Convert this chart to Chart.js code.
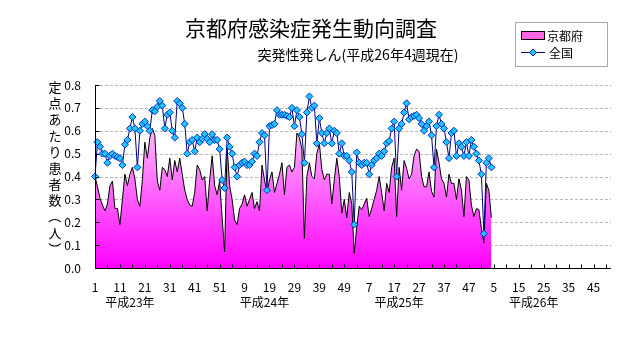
<!DOCTYPE html>
<html>
<head>
<meta charset="utf-8">
<script src="https://cdn.jsdelivr.net/npm/chart.js@4.4.0/dist/chart.umd.min.js"></script>
<style>
  html, body { margin: 0; padding: 0; background: #fff; }
</style>
</head>
<body>
<canvas id="chart" width="632" height="348"></canvas>
<script>
const chartTitle = '京都府感染症発生動向調査';
const chartSubtitle = '突発性発しん(平成26年4週現在)';
const yAxisTitle = ['定', '点', 'あ', 'た', 'り', '患', '者', '数', '（', '人', '）'];
const years = ['平成23年', '平成24年', '平成25年', '平成26年'];
const weeksPerYear = 52;
const tickLabels = ['1', '11', '21', '31', '41', '51', '9', '19', '29', '39', '49',
                    '7', '17', '27', '37', '47', '5', '15', '25', '35', '45'];
const seriesNames = ['京都府', '全国'];

// 京都府 (定点あたり) 平成23年1週 - 平成26年4週
const kyoto = [
    0.40, 0.355, 0.305, 0.275, 0.25, 0.28, 0.36, 0.38, 0.26, 0.26,
    0.19, 0.30, 0.41, 0.36, 0.41, 0.44, 0.39, 0.30, 0.27, 0.385,
    0.55, 0.48, 0.57, 0.61, 0.58, 0.38, 0.34, 0.44, 0.43, 0.40,
    0.48, 0.385, 0.47, 0.42, 0.48, 0.41, 0.34, 0.30, 0.275, 0.27,
    0.33, 0.45, 0.43, 0.385, 0.40, 0.25, 0.385, 0.49, 0.36, 0.32,
    0.38, 0.22, 0.07, 0.53, 0.36, 0.30, 0.21, 0.19, 0.26, 0.28,
    0.32, 0.27, 0.30, 0.33, 0.26, 0.29, 0.25, 0.45, 0.385, 0.33,
    0.385, 0.42, 0.33, 0.37, 0.41, 0.46, 0.32, 0.44, 0.45, 0.42,
    0.44, 0.59, 0.57, 0.52, 0.13, 0.40, 0.46, 0.40, 0.39, 0.50,
    0.545, 0.43, 0.385, 0.41, 0.41, 0.28, 0.385, 0.48, 0.40, 0.24,
    0.30, 0.22, 0.33, 0.28, 0.065, 0.18, 0.27, 0.255, 0.28, 0.305,
    0.225, 0.26, 0.30, 0.34, 0.40, 0.33, 0.25, 0.37, 0.33, 0.44,
    0.48, 0.225, 0.44, 0.34, 0.47, 0.435, 0.39, 0.41, 0.49, 0.52,
    0.51, 0.40, 0.355, 0.355, 0.42, 0.335, 0.31, 0.52, 0.46, 0.39,
    0.37, 0.31, 0.41, 0.37, 0.37, 0.30, 0.39, 0.34, 0.225, 0.40,
    0.385, 0.275, 0.225, 0.26, 0.255, 0.175, 0.11, 0.37, 0.34, 0.22
];

// 全国
const zenkoku = [
    0.40, 0.55, 0.53, 0.50, 0.50, 0.46, 0.49, 0.50, 0.49, 0.485,
    0.48, 0.45, 0.54, 0.56, 0.61, 0.66, 0.61, 0.44, 0.60, 0.63,
    0.64, 0.62, 0.60, 0.69, 0.685, 0.705, 0.73, 0.71, 0.61, 0.67,
    0.68, 0.60, 0.57, 0.73, 0.72, 0.70, 0.63, 0.50, 0.55, 0.56,
    0.51, 0.57, 0.55, 0.565, 0.585, 0.565, 0.55, 0.585, 0.56, 0.56,
    0.52, 0.385, 0.35, 0.57, 0.53, 0.50, 0.44, 0.40, 0.45, 0.46,
    0.465, 0.45, 0.45, 0.465, 0.50, 0.49, 0.55, 0.59, 0.58, 0.34,
    0.62, 0.625, 0.63, 0.69, 0.67, 0.67, 0.67, 0.665, 0.66, 0.70,
    0.62, 0.69, 0.66, 0.585, 0.46, 0.68, 0.75, 0.70, 0.71, 0.545,
    0.655, 0.59, 0.545, 0.59, 0.61, 0.545, 0.60, 0.59, 0.50, 0.545,
    0.49, 0.49, 0.47, 0.42, 0.19, 0.505, 0.46, 0.45, 0.46, 0.46,
    0.41, 0.45, 0.47, 0.48, 0.50, 0.49, 0.51, 0.545, 0.555, 0.61,
    0.64, 0.40, 0.61, 0.63, 0.68, 0.72, 0.65, 0.66, 0.665, 0.67,
    0.655, 0.63, 0.60, 0.62, 0.64, 0.58, 0.44, 0.62, 0.67, 0.63,
    0.61, 0.55, 0.48, 0.59, 0.60, 0.49, 0.545, 0.53, 0.49, 0.55,
    0.49, 0.56, 0.53, 0.50, 0.47, 0.41, 0.15, 0.46, 0.48, 0.44
];

// one category per week, 4 years
let weekLabels = [];
for (let y = 0; y < years.length; y++) {
    for (let w = 1; w <= weeksPerYear; w++) {
        weekLabels.push(years[y] + w + '週');
    }
}

const FONT = '"Noto Sans CJK JP", "Noto Sans", sans-serif';

function pinkFill(context) {
    const area = context.chart.chartArea;
    if (!area) return '#ff66dd';
    const g = context.chart.ctx.createLinearGradient(0, area.top, 0, area.bottom);
    g.addColorStop(0, '#fff2fc');
    g.addColorStop(1, '#ff00ff');
    return g;
}

function diamond(ctx, cx, cy, r) {
    ctx.beginPath();
    ctx.moveTo(cx, cy - r);
    ctx.lineTo(cx + r, cy);
    ctx.lineTo(cx, cy + r);
    ctx.lineTo(cx - r, cy);
    ctx.closePath();
    ctx.fill();
    ctx.stroke();
}

const decor = {
    id: 'decor',
    beforeDatasetsDraw(chart) {
        const ctx = chart.ctx;
        const a = chart.chartArea;
        const ys = chart.scales.y;
        ctx.save();
        ctx.strokeStyle = '#b8b8b8';
        ctx.lineWidth = 1;
        ctx.setLineDash([3, 2]);
        ys.ticks.forEach(t => {
            if (t.value === 0) return;
            const py = Math.round(ys.getPixelForValue(t.value)) + 0.5;
            ctx.beginPath();
            ctx.moveTo(a.left, py);
            ctx.lineTo(a.right, py);
            ctx.stroke();
        });
        ctx.restore();
    },
    afterDatasetsDraw(chart) {
        const ctx = chart.ctx;
        const a = chart.chartArea;
        const xs = chart.scales.x;
        const ys = chart.scales.y;
        const left = Math.round(a.left) + 0.5;
        const bottom = Math.round(a.bottom) + 0.5;
        ctx.save();
        ctx.strokeStyle = '#000';
        ctx.lineWidth = 1;
        ctx.beginPath();
        ctx.moveTo(left, Math.round(a.top));
        ctx.lineTo(left, bottom);
        ctx.lineTo(Math.round(a.right), bottom);
        // inward tick marks
        ys.ticks.forEach(t => {
            const py = Math.round(ys.getPixelForValue(t.value)) + 0.5;
            ctx.moveTo(left, py);
            ctx.lineTo(left + 4, py);
        });
        for (let i = 0; i < weekLabels.length; i += 5) {
            const px = Math.round(xs.getPixelForValue(i)) + 0.5;
            ctx.moveTo(px, bottom);
            ctx.lineTo(px, bottom - 4);
        }
        ctx.stroke();
        ctx.restore();
    },
    afterDraw(chart) {
        const ctx = chart.ctx;
        const a = chart.chartArea;
        const xs = chart.scales.x;
        ctx.save();
        ctx.fillStyle = '#000';
        ctx.textBaseline = 'middle';
        ctx.textAlign = 'center';

        ctx.font = '21px ' + FONT;
        ctx.fillText(chartTitle, 311, 28);
        ctx.font = '14px ' + FONT;
        ctx.fillText(chartSubtitle, 358, 55);

        // vertical y axis title, brackets turned like vertical writing
        ctx.font = '13px ' + FONT;
        yAxisTitle.forEach((ch, k) => {
            const cy = a.top + 2 + k * 16.2;
            if (ch === '（' || ch === '）') {
                ctx.save();
                ctx.translate(55, cy);
                ctx.rotate(Math.PI / 2);
                ctx.fillText(ch, 0, 0);
                ctx.restore();
            } else {
                ctx.fillText(ch, 55, cy);
            }
        });

        // year names under the week numbers
        ctx.font = '12px ' + FONT;
        years.forEach((name, k) => {
            ctx.fillText(name, xs.getPixelForValue(14 + k * 54), 302);
        });

        // legend box
        ctx.strokeStyle = '#a8a8a8';
        ctx.lineWidth = 1;
        ctx.fillStyle = '#fff';
        ctx.fillRect(515.5, 22.5, 92, 44);
        ctx.strokeRect(515.5, 22.5, 92, 44);

        ctx.fillStyle = '#ff66e0';
        ctx.fillRect(521, 31, 24, 9);
        ctx.strokeStyle = '#000';
        ctx.strokeRect(521.5, 31.5, 23, 8);

        ctx.strokeStyle = '#000080';
        ctx.beginPath();
        ctx.moveTo(521, 52.5);
        ctx.lineTo(545, 52.5);
        ctx.stroke();
        ctx.fillStyle = '#22c4ff';
        ctx.strokeStyle = '#0030c0';
        diamond(ctx, 533, 52.5, 3.5);

        ctx.fillStyle = '#000';
        ctx.textAlign = 'left';
        ctx.font = '12px ' + FONT;
        ctx.fillText(seriesNames[0], 547, 36);
        ctx.fillText(seriesNames[1], 549, 53);
        ctx.restore();
    }
};

const chart = new Chart(document.getElementById('chart').getContext('2d'), {
    type: 'line',
    data: {
        labels: weekLabels,
        datasets: [
            {
                label: seriesNames[1],
                data: zenkoku,
                borderColor: '#000080',
                borderWidth: 1,
                pointStyle: 'rectRot',
                pointRadius: 3.5,
                pointBackgroundColor: '#22c4ff',
                pointBorderColor: '#0030c0',
                pointBorderWidth: 1,
                tension: 0,
                fill: false,
                order: 0
            },
            {
                label: seriesNames[0],
                data: kyoto,
                borderColor: '#000',
                borderWidth: 1,
                backgroundColor: pinkFill,
                pointRadius: 0,
                tension: 0,
                fill: 'origin',
                order: 1
            }
        ]
    },
    options: {
        responsive: false,
        animation: false,
        devicePixelRatio: 1,
        layout: {
            padding: { left: 0, right: 21, top: 85, bottom: 0 }
        },
        plugins: {
            legend: { display: false },
            title: { display: false },
            tooltip: { enabled: false }
        },
        scales: {
            x: {
                offset: false,
                grid: { display: false },
                border: { display: false },
                ticks: {
                    autoSkip: false,
                    maxRotation: 0,
                    minRotation: 0,
                    padding: 4,
                    color: '#000',
                    font: { size: 12, family: FONT },
                    callback: function(value, index) {
                        return index % 10 === 0 ? tickLabels[index / 10] : '';
                    }
                },
                afterFit: function(scale) { scale.height = 80; }
            },
            y: {
                min: 0,
                max: 0.8,
                grid: { display: false },
                border: { display: false },
                ticks: {
                    stepSize: 0.1,
                    padding: 6,
                    color: '#000',
                    font: { size: 12, family: FONT },
                    callback: function(value) { return value.toFixed(1); }
                },
                afterFit: function(scale) { scale.width = 95; }
            }
        }
    },
    plugins: [decor]
});
</script>
</body>
</html>
